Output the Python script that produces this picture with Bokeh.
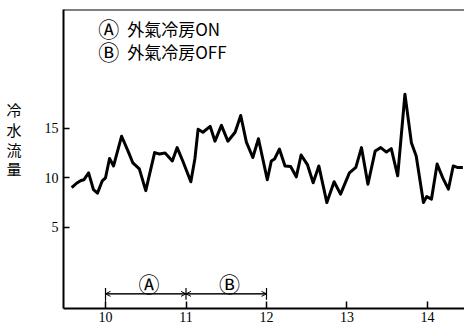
from bokeh.plotting import figure
from bokeh.models import Range1d, FixedTicker, Span, Label, Arrow, OpenHead
from bokeh.embed import file_html
from bokeh.resources import INLINE

# ---- data ----
times = [9.58, 9.64, 9.69, 9.73, 9.79, 9.85, 9.90, 9.96, 10.00, 10.05, 10.10, 10.20,
         10.28, 10.34, 10.42, 10.50, 10.61, 10.67, 10.74, 10.83, 10.89, 10.96, 11.06,
         11.11, 11.15, 11.21, 11.30, 11.36, 11.44, 11.52, 11.61, 11.68, 11.75, 11.83,
         11.90, 12.01, 12.06, 12.10, 12.16, 12.23, 12.30, 12.37, 12.43, 12.51, 12.58,
         12.65, 12.75, 12.84, 12.92, 13.03, 13.11, 13.18, 13.26, 13.35, 13.42, 13.49,
         13.55, 13.63, 13.72, 13.80, 13.86, 13.95, 13.99, 14.05, 14.12, 14.19, 14.26,
         14.32, 14.37, 14.44]
flow = [9.0, 9.45, 9.7, 9.8, 10.5, 8.8, 8.45, 9.7, 10.0, 11.95, 11.2, 14.2,
        12.7, 11.5, 10.9, 8.7, 12.55, 12.4, 12.5, 11.7, 13.05, 11.7, 9.6,
        11.9, 14.9, 14.6, 15.2, 13.7, 15.3, 13.7, 14.6, 16.3, 13.6, 12.05,
        13.95, 9.8, 11.7, 11.9, 12.9, 11.2, 11.15, 10.1, 12.3, 11.3, 9.5,
        11.2, 7.5, 9.6, 8.35, 10.5, 11.05, 13.05, 9.35, 12.7, 13.05, 12.6,
        12.95, 10.2, 18.45, 13.55, 12.2, 7.5, 8.1, 7.85, 11.4, 10.0, 8.85,
        11.2, 11.05, 11.05]

x_ticks = [10, 11, 12, 13, 14]
y_ticks = [5, 10, 15]
y_label_chars = ["冷", "水", "流", "量"]
legend_marks = ["Ⓐ", "Ⓑ"]
legend_texts = ["外氣冷房ON", "外氣冷房OFF"]
period_bounds = [10, 11, 12]
period_marks = ["Ⓐ", "Ⓑ"]

X0, X1 = 9.478, 14.46
Y0, Y1 = -3.2, 27.0

p = figure(width=464, height=327, output_backend="svg", toolbar_location=None,
           x_range=Range1d(X0, X1), y_range=Range1d(Y0, Y1),
           min_border_left=63, min_border_right=0, min_border_top=9,
           min_border_bottom=19)
p.outline_line_color = None
p.grid.visible = False
p.background_fill_color = "white"
p.border_fill_color = "white"

for ax in (p.xaxis[0], p.yaxis[0]):
    ax.axis_line_width = 2
    ax.axis_line_color = "black"
    ax.major_tick_line_color = "black"
    ax.major_tick_line_width = 1.5
    ax.minor_tick_line_color = None
    ax.major_tick_out = 0
    ax.major_label_text_font = "Liberation Serif"
    ax.major_label_text_font_size = "14px"
    ax.major_label_text_color = "black"

p.xaxis[0].ticker = FixedTicker(ticks=x_ticks)
p.xaxis[0].major_tick_in = 7
p.xaxis[0].major_label_standoff = 3
p.yaxis[0].ticker = FixedTicker(ticks=y_ticks)
p.yaxis[0].major_tick_in = 6
p.yaxis[0].major_label_standoff = 5

# stacked y-axis label (trailing blank lines lift it above the frame centre)
yax = p.yaxis[0]
yax.axis_label = "\n".join(y_label_chars) + "\n \n "
yax.axis_label_orientation = "horizontal"
yax.axis_label_text_font = "Noto Sans CJK JP"
yax.axis_label_text_font_size = "15px"
yax.axis_label_text_font_style = "normal"
yax.axis_label_text_color = "black"
yax.axis_label_text_line_height = 0.94
yax.axis_label_standoff = 20

# top frame line
p.add_layout(Span(location=Y1, dimension="width", line_color="black", line_width=2))

# data line
p.line(times, flow, line_color="black", line_width=3, line_join="round")

# legend text (top-left)
for i, (m, t) in enumerate(zip(legend_marks, legend_texts)):
    yy = 25.1 - i * 2.3
    p.add_layout(Label(x=10.04, y=yy, text=m, text_font="Noto Sans CJK JP",
                       text_font_size="21px", text_align="center",
                       text_baseline="middle", text_color="black"))
    p.add_layout(Label(x=10.27, y=yy, text=t, text_font="Noto Sans CJK JP",
                       text_font_size="17px", text_align="left",
                       text_baseline="middle", text_color="black"))

# period bracket
yb = -1.72
p.segment(x0=[period_bounds[0]], y0=[yb], x1=[period_bounds[-1]], y1=[yb],
          line_color="black", line_width=1)
p.segment(x0=period_bounds, y0=[yb + 0.6] * 3, x1=period_bounds, y1=[yb - 0.6] * 3,
          line_color="black", line_width=1.2)
p.segment(x0=[period_bounds[0]], y0=[yb], x1=[period_bounds[0]], y1=[Y0],
          line_color="black", line_width=1, line_dash="3 2")
for a, b in zip(period_bounds[:-1], period_bounds[1:]):
    mid = (a + b) / 2
    for end in (a, b):
        p.add_layout(Arrow(end=OpenHead(size=5, line_width=1, line_color="black"),
                           x_start=mid, y_start=yb, x_end=end, y_end=yb,
                           line_color="black", line_width=1))
for a, b, m in zip(period_bounds[:-1], period_bounds[1:], period_marks):
    p.add_layout(Label(x=(a + b) / 2 + 0.04, y=-0.6, text=m, text_font="Noto Sans CJK JP",
                       text_font_size="21px", text_align="center",
                       text_baseline="middle", text_color="black"))

open("out.html", "w").write(file_html(p, INLINE))
